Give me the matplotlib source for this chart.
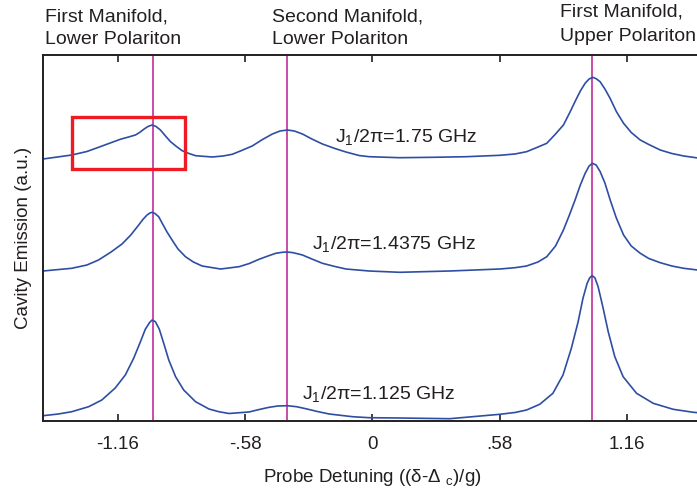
import numpy as np
import matplotlib.pyplot as plt
from matplotlib.patches import Rectangle

plt.rcParams['font.family'] = ['Liberation Sans', 'DejaVu Sans']
plt.rcParams['mathtext.fontset'] = 'custom'
plt.rcParams['mathtext.rm'] = 'Liberation Sans'
plt.rcParams['mathtext.it'] = 'Liberation Sans:italic'

# spectra (detuning, emission a.u.)
x_top = [-1.5, -1.369, -1.30, -1.247, -1.20, -1.148, -1.11, -1.079, -1.06, -1.041,
         -1.022, -1.003, -0.985, -0.965, -0.942, -0.919, -0.892, -0.866, -0.835, -0.805,
         -0.729, -0.68, -0.638, -0.595, -0.547, -0.50, -0.455, -0.42, -0.387, -0.355,
         -0.318, -0.275, -0.227, -0.17, -0.120, -0.06, -0.014, 0.125, 0.277, 0.429,
         0.581, 0.65, 0.703, 0.75, 0.795, 0.835, 0.871, 0.90, 0.924, 0.948, 0.970,
         0.988, 1.005, 1.02, 1.038, 1.06, 1.084, 1.112, 1.145, 1.18, 1.221,
         1.26, 1.312, 1.365, 1.419, 1.5]
y_top = [262, 266, 269.5, 273.7, 277.5, 281.7, 284, 286, 288.5, 291.7,
         294.5, 296, 294.5, 291, 285, 279.3, 274.5, 270.3, 267.5, 265.3,
         264, 265, 266.7, 270.5, 275, 281.5, 287, 290, 291, 290,
         287, 282, 277, 272.5, 269, 265.5, 264.3, 263.3, 263.7, 264.3,
         265.7, 267, 269.3, 273.5, 277.7, 287, 296, 308.5, 319.5, 330, 337.8,
         342, 343.7, 342.3, 339.3, 332, 322.5, 309.5, 297.7, 288.5, 281,
         276.5, 271, 267.5, 265, 262.5]

x_mid = [-1.5, -1.369, -1.30, -1.247, -1.19, -1.140, -1.10, -1.064, -1.045, -1.026,
         -1.013, -1.003, -0.990, -0.973, -0.955, -0.935, -0.912, -0.885, -0.851, -0.815,
         -0.775, -0.691, -0.607, -0.56, -0.516, -0.475, -0.440, -0.41, -0.387, -0.36,
         -0.318, -0.275, -0.227, -0.17, -0.120, -0.014, 0.125, 0.353, 0.581, 0.65, 0.703,
         0.755, 0.795, 0.835, 0.871, 0.90, 0.924, 0.948, 0.970, 0.988, 1.003,
         1.02, 1.038, 1.06, 1.084, 1.112, 1.145, 1.18, 1.221, 1.26, 1.312,
         1.365, 1.419, 1.5]
y_mid = [150, 152.7, 156, 161, 169, 177, 186, 196, 201.5, 206,
         208, 208.7, 207.5, 204.3, 197, 189, 181, 172, 164.3, 159,
         155, 152, 154.3, 157.5, 161.7, 165, 167.7, 168.7, 169, 168.3,
         166, 162, 157.7, 154.5, 152, 150, 148.7, 150, 152, 153.3, 155,
         159, 164.3, 175, 191, 207, 221, 236, 247.7, 255, 257.7,
         256, 249.5, 238, 221, 203, 186, 175, 167.7, 162.5, 158.3,
         155, 152.7, 150.5]

x_bot = [-1.5, -1.43, -1.369, -1.292, -1.232, -1.171, -1.125, -1.087, -1.056, -1.034,
         -1.015, -1.003, -0.988, -0.970, -0.950, -0.927, -0.896, -0.859, -0.805, -0.744,
         -0.699, -0.653, -0.562, -0.515, -0.470, -0.43, -0.387, -0.345, -0.303, -0.25,
         -0.196, -0.090, -0.014, 0.125, 0.353, 0.581, 0.65, 0.703, 0.763, 0.823, 0.869,
         0.907, 0.938, 0.960, 0.979, 0.991, 1.002, 1.014, 1.029, 1.052, 1.075,
         1.105, 1.143, 1.204, 1.280, 1.371, 1.463, 1.5]
y_bot = [5.3, 7, 9.3, 14.3, 21, 33, 46, 62.7, 79.3, 91.7,
         98.3, 101, 99.3, 91.7, 77.7, 61, 44.3, 31, 19.3, 12,
         9.3, 7.5, 9, 11.5, 13.7, 15, 15.3, 14.3, 12.3, 9.5,
         7, 4.3, 3.3, 3, 2.3, 6.7, 8.5, 11, 16.7, 27.7, 46,
         72.7, 99.3, 122.7, 137.7, 143.3, 145.3, 143.3, 134.3, 112.7, 89.3,
         64.3, 44.3, 27.7, 17.7, 11.7, 8.7, 8]

transitions = [-1.0, -0.387, 1.0]
tick_pos = [-1.16, -0.58, 0, 0.58, 1.16]
tick_lab = ['-1.16', '-.58', '0', '.58', '1.16']

txt = '#231f20'
blue = '#2e4ea3'
mag = '#c53fa3'

fig = plt.figure(figsize=(6.97, 4.91), dpi=100)
ax = fig.add_axes([43 / 697, 70 / 491, 658.5 / 697, 366 / 491])

for xv in transitions:
    ax.axvline(xv, color=mag, lw=1.3, zorder=1)

for xs, ys in [(x_top, y_top), (x_mid, y_mid), (x_bot, y_bot)]:
    ax.plot(xs, ys, color=blue, lw=1.2, zorder=2,
            solid_joinstyle='round', solid_capstyle='round')

ax.add_patch(Rectangle((-1.367, 251.7), 0.516, 52.6, fill=False,
                       ec='#ed1c24', lw=2.4, zorder=3))

ax.set_xlim(-1.5, 1.5)
ax.set_ylim(0, 366)
ax.set_xticks(tick_pos)
ax.set_xticklabels(tick_lab)
ax.set_yticks([])
ax.tick_params(axis='x', direction='in', top=True, length=5, width=1.2,
               pad=11, labelsize=13.5, labelcolor=txt, color=txt)
for s in ax.spines.values():
    s.set_linewidth(1.4)
    s.set_color(txt)

ax.set_xlabel(r'Probe Detuning ((δ-Δ $_{\rm c}$)/g)', fontsize=13.5, color=txt, labelpad=10)
ax.set_ylabel('Cavity Emission (a.u.)', fontsize=13.5, color=txt, labelpad=8)

fs = 14
ax.text(-0.169, 279.3, r'J$_{\rm 1}$/2π=1.75 GHz', fontsize=fs, color=txt, va='baseline')
ax.text(-0.274, 171.7, r'J$_{\rm 1}$/2π=1.4375 GHz', fontsize=fs, color=txt, va='baseline')
ax.text(-0.318, 21.7, r'J$_{\rm 1}$/2π=1.125 GHz', fontsize=fs, color=txt, va='baseline')

ax.text(-1.490, 400, 'First Manifold,', fontsize=fs, color=txt, va='baseline')
ax.text(-1.490, 377, 'Lower Polariton', fontsize=fs, color=txt, va='baseline')
ax.text(-0.458, 400, 'Second Manifold,', fontsize=fs, color=txt, va='baseline')
ax.text(-0.458, 377, 'Lower Polariton', fontsize=fs, color=txt, va='baseline')
ax.text(0.855, 404.3, 'First Manifold,', fontsize=fs, color=txt, va='baseline')
ax.text(0.855, 380, 'Upper Polariton', fontsize=fs, color=txt, va='baseline')

plt.savefig('out.png', dpi=100)
